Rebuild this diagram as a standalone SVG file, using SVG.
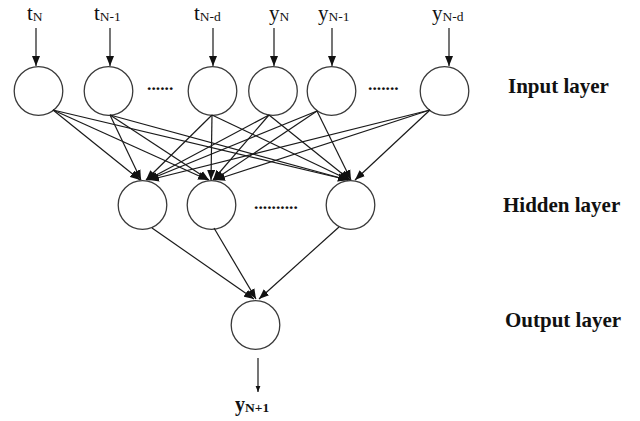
<svg xmlns="http://www.w3.org/2000/svg" width="640" height="421" viewBox="0 0 640 421">
<style>
.node{fill:#fff;stroke:#3a3a3a;stroke-width:1.3}
.lbl{font-family:"Liberation Serif","Times New Roman",serif;font-size:21px;fill:#111}
.sub{font-size:13.5px}
.layer{font-family:"Liberation Serif","Times New Roman",serif;font-size:21px;font-weight:bold;fill:#111}
.dots{font-family:"Liberation Serif","Times New Roman",serif;font-size:17.5px;font-weight:bold;fill:#111}
.edge{stroke:#1a1a1a;stroke-width:1.2;fill:none}
</style>
<defs>
<marker id="ah" markerUnits="userSpaceOnUse" viewBox="0 0 10 8" refX="10" refY="4" markerWidth="10" markerHeight="8.5" orient="auto">
<path d="M0,0 L10,4 L0,8 Z" fill="#111"/>
</marker>
<marker id="ahs" markerUnits="userSpaceOnUse" viewBox="0 0 10 8" refX="10" refY="4" markerWidth="6" markerHeight="6" orient="auto">
<path d="M0,0 L10,4 L0,8 Z" fill="#111"/>
</marker>
</defs>

<g id="labels">
<text class="lbl" x="27" y="20">t<tspan class="sub" dy="1">N</tspan></text>
<text class="lbl" x="94" y="20">t<tspan class="sub" dy="1">N-1</tspan></text>
<text class="lbl" x="194" y="20">t<tspan class="sub" dy="1">N-d</tspan></text>
<text class="lbl" x="269" y="20">y<tspan class="sub" dy="1">N</tspan></text>
<text class="lbl" x="318" y="20">y<tspan class="sub" dy="1">N-1</tspan></text>
<text class="lbl" x="432" y="20">y<tspan class="sub" dy="1">N-d</tspan></text>
<text class="layer" x="508" y="93">Input layer</text>
<text class="layer" x="503" y="212">Hidden layer</text>
<text class="layer" x="505" y="327">Output layer</text>
<text class="dots" x="147" y="90">......</text>
<text class="dots" x="368" y="90">.......</text>
<text class="dots" x="254" y="209">..........</text>
<text class="layer" x="235" y="411" style="font-size:20px">y<tspan class="sub" dy="1">N+1</tspan></text>
</g>

<g id="in1"><circle class="node" cx="38.5" cy="91" r="24.3"/></g>
<g id="in2"><circle class="node" cx="108.5" cy="91" r="24.3"/></g>
<g id="in3"><circle class="node" cx="212.5" cy="91" r="24.3"/></g>
<g id="in4"><circle class="node" cx="273" cy="91" r="24.3"/></g>
<g id="in5"><circle class="node" cx="331.5" cy="91" r="24.3"/></g>
<g id="in6"><circle class="node" cx="444.5" cy="91" r="24.3"/></g>
<g id="h1"><circle class="node" cx="142.5" cy="205" r="24.3"/></g>
<g id="h2"><circle class="node" cx="211.5" cy="205" r="24.3"/></g>
<g id="h3"><circle class="node" cx="350.5" cy="205" r="24.3"/></g>
<g id="out"><circle class="node" cx="255.5" cy="325" r="24.3"/></g>

<g id="connectors">
<line class="edge" x1="36" y1="28" x2="36" y2="66" marker-end="url(#ah)"/>
<line class="edge" x1="110" y1="28" x2="110" y2="66" marker-end="url(#ah)"/>
<line class="edge" x1="213" y1="28" x2="213" y2="66" marker-end="url(#ah)"/>
<line class="edge" x1="274" y1="28" x2="274" y2="66" marker-end="url(#ah)"/>
<line class="edge" x1="332" y1="28" x2="332" y2="66" marker-end="url(#ah)"/>
<line class="edge" x1="449" y1="28" x2="449" y2="66" marker-end="url(#ah)"/>

<line class="edge" x1="53" y1="110" x2="140" y2="180" marker-end="url(#ah)"/>
<line class="edge" x1="53" y1="110" x2="208" y2="180" marker-end="url(#ah)"/>
<line class="edge" x1="53" y1="110" x2="348" y2="180" marker-end="url(#ah)"/>
<line class="edge" x1="110" y1="115" x2="141" y2="180" marker-end="url(#ah)"/>
<line class="edge" x1="110" y1="115" x2="209" y2="180" marker-end="url(#ah)"/>
<line class="edge" x1="110" y1="115" x2="348" y2="180" marker-end="url(#ah)"/>
<line class="edge" x1="212" y1="115" x2="146" y2="180" marker-end="url(#ah)"/>
<line class="edge" x1="212" y1="115" x2="211" y2="180" marker-end="url(#ah)"/>
<line class="edge" x1="212" y1="115" x2="349" y2="180" marker-end="url(#ah)"/>
<line class="edge" x1="269" y1="115" x2="147" y2="180" marker-end="url(#ah)"/>
<line class="edge" x1="269" y1="115" x2="213" y2="180" marker-end="url(#ah)"/>
<line class="edge" x1="269" y1="115" x2="350" y2="180" marker-end="url(#ah)"/>
<line class="edge" x1="317" y1="111" x2="148" y2="180" marker-end="url(#ah)"/>
<line class="edge" x1="317" y1="111" x2="214" y2="180" marker-end="url(#ah)"/>
<line class="edge" x1="317" y1="111" x2="351" y2="180" marker-end="url(#ah)"/>
<line class="edge" x1="430" y1="110" x2="149" y2="180" marker-end="url(#ah)"/>
<line class="edge" x1="430" y1="110" x2="215" y2="180" marker-end="url(#ah)"/>
<line class="edge" x1="430" y1="110" x2="355" y2="180" marker-end="url(#ah)"/>

<line class="edge" x1="152" y1="228" x2="254" y2="299" marker-end="url(#ah)"/>
<line class="edge" x1="214" y1="228" x2="256" y2="299" marker-end="url(#ah)"/>
<line class="edge" x1="339" y1="227" x2="259" y2="299" marker-end="url(#ah)"/>

<line class="edge" x1="258" y1="358" x2="258" y2="392" marker-end="url(#ahs)"/>
</g>
</svg>
